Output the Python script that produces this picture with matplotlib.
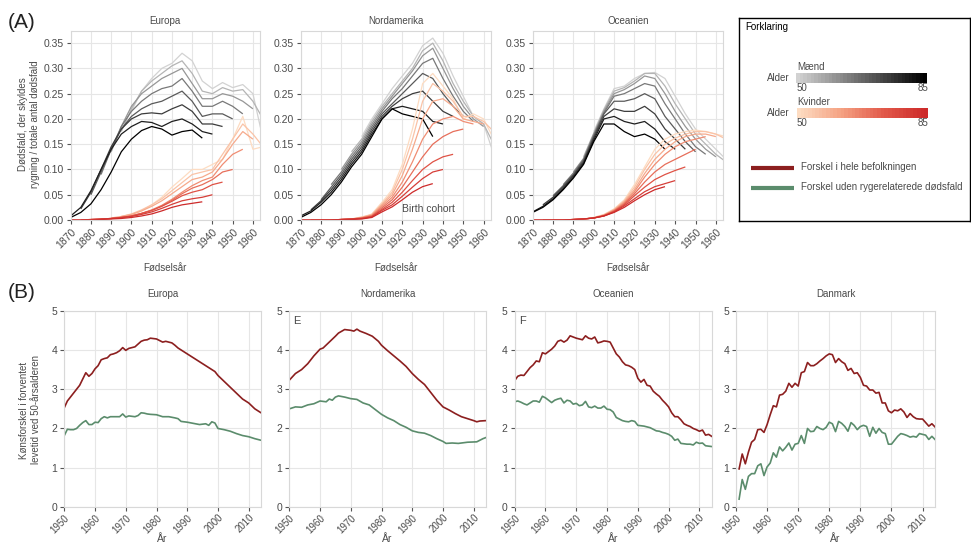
import numpy as np
import matplotlib
matplotlib.use("Agg")
import matplotlib.pyplot as plt
from matplotlib.colors import LinearSegmentedColormap

plt.rcParams["font.family"] = ["Liberation Sans", "DejaVu Sans"]

# ---- panel A: smoking-attributable share of deaths by birth cohort ----
# one row per age, values every 5 birth years starting at FIRST_COHORT
AGES = [50, 55, 60, 65, 70, 75, 80, 85]
FIRST_COHORT = [1900, 1895, 1890, 1885, 1880, 1875, 1870, 1865]
STEP = 5

EUR_MEN = [
    [0.215, 0.255, 0.28, 0.30, 0.31, 0.33, 0.315, 0.275, 0.26, 0.272, 0.262, 0.268, 0.25, 0.16, 0.10],
    [0.175, 0.22, 0.255, 0.275, 0.29, 0.305, 0.315, 0.29, 0.255, 0.25, 0.262, 0.255, 0.258, 0.235, 0.2],
    [0.135, 0.185, 0.225, 0.25, 0.265, 0.28, 0.29, 0.30, 0.27, 0.24, 0.24, 0.25, 0.245, 0.235, 0.22],
    [0.09, 0.14, 0.185, 0.215, 0.235, 0.25, 0.26, 0.265, 0.28, 0.255, 0.225, 0.225, 0.235, 0.225, 0.21],
    [0.05, 0.095, 0.14, 0.18, 0.205, 0.22, 0.23, 0.235, 0.245, 0.255, 0.235, 0.205, 0.21, 0.21, 0.2],
    [0.022, 0.055, 0.1, 0.145, 0.18, 0.2, 0.21, 0.212, 0.21, 0.22, 0.228, 0.215, 0.19, 0.19, 0.185],
    [0.008, 0.025, 0.058, 0.1, 0.14, 0.17, 0.185, 0.195, 0.193, 0.185, 0.195, 0.2, 0.19, 0.175, 0.17],
    [0.0, 0.005, 0.015, 0.032, 0.06, 0.095, 0.135, 0.16, 0.177, 0.185, 0.18, 0.168, 0.175, 0.178, 0.162],
]
EUR_WOMEN = [
    [0.01, 0.018, 0.03, 0.045, 0.065, 0.082, 0.1, 0.1, 0.11, 0.12, 0.16, 0.205, 0.14, 0.145, 0.12],
    [0.007, 0.012, 0.02, 0.03, 0.042, 0.058, 0.074, 0.09, 0.095, 0.1, 0.13, 0.16, 0.19, 0.17, 0.145],
    [0.004, 0.007, 0.011, 0.018, 0.027, 0.038, 0.052, 0.066, 0.08, 0.085, 0.095, 0.12, 0.15, 0.175, 0.16],
    [0.002, 0.003, 0.005, 0.008, 0.013, 0.02, 0.029, 0.041, 0.055, 0.068, 0.078, 0.085, 0.11, 0.13, 0.14],
    [0.001, 0.002, 0.003, 0.005, 0.008, 0.013, 0.019, 0.028, 0.039, 0.052, 0.063, 0.07, 0.08, 0.095, 0.1],
    [0.0, 0.001, 0.002, 0.003, 0.005, 0.008, 0.013, 0.019, 0.027, 0.037, 0.048, 0.055, 0.06, 0.07, 0.075],
    [0.0, 0.0, 0.001, 0.002, 0.003, 0.005, 0.007, 0.011, 0.016, 0.023, 0.031, 0.038, 0.042, 0.045, 0.05],
    [0.0, 0.0, 0.0, 0.0, 0.001, 0.002, 0.003, 0.005, 0.008, 0.012, 0.018, 0.025, 0.03, 0.033, 0.036],
]
NAM_MEN = [
    [0.165, 0.2, 0.23, 0.26, 0.285, 0.31, 0.345, 0.36, 0.33, 0.285, 0.245, 0.205, 0.19, 0.13, 0.1],
    [0.135, 0.16, 0.195, 0.225, 0.25, 0.275, 0.3, 0.335, 0.35, 0.315, 0.27, 0.235, 0.205, 0.19, 0.15],
    [0.1, 0.13, 0.155, 0.19, 0.22, 0.245, 0.27, 0.295, 0.325, 0.34, 0.3, 0.26, 0.225, 0.2, 0.185],
    [0.07, 0.095, 0.125, 0.15, 0.185, 0.215, 0.24, 0.26, 0.285, 0.31, 0.32, 0.28, 0.245, 0.215, 0.195],
    [0.04, 0.065, 0.09, 0.12, 0.145, 0.18, 0.21, 0.23, 0.25, 0.27, 0.29, 0.28, 0.25, 0.225, 0.205],
    [0.02, 0.038, 0.06, 0.085, 0.115, 0.14, 0.175, 0.205, 0.225, 0.24, 0.25, 0.255, 0.235, 0.215, 0.205],
    [0.008, 0.018, 0.035, 0.055, 0.08, 0.11, 0.135, 0.17, 0.2, 0.22, 0.225, 0.22, 0.215, 0.195, 0.19],
    [0.002, 0.005, 0.015, 0.03, 0.05, 0.075, 0.105, 0.13, 0.165, 0.2, 0.22, 0.21, 0.205, 0.2, 0.165],
]
NAM_WOMEN = [
    [0.004, 0.012, 0.035, 0.06, 0.11, 0.18, 0.27, 0.29, 0.265, 0.24, 0.2, 0.21, 0.2, 0.16, 0.14],
    [0.002, 0.006, 0.011, 0.032, 0.055, 0.1, 0.16, 0.235, 0.27, 0.255, 0.235, 0.205, 0.205, 0.195, 0.175],
    [0.001, 0.002, 0.005, 0.01, 0.03, 0.05, 0.088, 0.14, 0.2, 0.235, 0.24, 0.225, 0.2, 0.195, 0.19],
    [0.0, 0.001, 0.002, 0.004, 0.009, 0.027, 0.045, 0.075, 0.115, 0.16, 0.19, 0.2, 0.205, 0.195, 0.19],
    [0.0, 0.0, 0.001, 0.002, 0.004, 0.008, 0.024, 0.04, 0.065, 0.095, 0.125, 0.15, 0.165, 0.175, 0.18],
    [0.0, 0.0, 0.0, 0.001, 0.002, 0.003, 0.007, 0.021, 0.035, 0.055, 0.078, 0.1, 0.115, 0.125, 0.13],
    [0.0, 0.0, 0.0, 0.0, 0.001, 0.002, 0.003, 0.006, 0.019, 0.03, 0.047, 0.065, 0.082, 0.095, 0.1],
    [0.0, 0.0, 0.0, 0.0, 0.0, 0.001, 0.001, 0.002, 0.005, 0.016, 0.026, 0.04, 0.055, 0.066, 0.072],
]
OCE_MEN = [
    [0.175, 0.22, 0.26, 0.265, 0.28, 0.29, 0.292, 0.28, 0.245, 0.21, 0.18, 0.16, 0.14, 0.12, 0.11],
    [0.125, 0.172, 0.218, 0.255, 0.262, 0.275, 0.29, 0.29, 0.265, 0.23, 0.2, 0.17, 0.15, 0.13, 0.115],
    [0.095, 0.122, 0.17, 0.215, 0.25, 0.258, 0.27, 0.285, 0.28, 0.25, 0.215, 0.185, 0.16, 0.14, 0.125],
    [0.07, 0.093, 0.12, 0.168, 0.212, 0.245, 0.25, 0.26, 0.27, 0.265, 0.23, 0.2, 0.17, 0.145, 0.13],
    [0.048, 0.068, 0.09, 0.118, 0.165, 0.21, 0.235, 0.235, 0.24, 0.25, 0.24, 0.205, 0.18, 0.155, 0.135],
    [0.03, 0.045, 0.065, 0.088, 0.115, 0.162, 0.205, 0.22, 0.215, 0.215, 0.225, 0.21, 0.18, 0.16, 0.14],
    [0.016, 0.027, 0.042, 0.062, 0.085, 0.112, 0.158, 0.2, 0.205, 0.195, 0.19, 0.195, 0.18, 0.155, 0.14],
    [0.01, 0.015, 0.025, 0.04, 0.06, 0.083, 0.11, 0.155, 0.19, 0.19, 0.175, 0.165, 0.17, 0.16, 0.14],
]
OCE_WOMEN = [
    [0.005, 0.011, 0.022, 0.04, 0.07, 0.105, 0.14, 0.16, 0.17, 0.175, 0.178, 0.175, 0.17, 0.165, 0.16],
    [0.002, 0.005, 0.01, 0.021, 0.038, 0.065, 0.1, 0.13, 0.15, 0.162, 0.17, 0.175, 0.175, 0.17, 0.16],
    [0.001, 0.002, 0.004, 0.01, 0.02, 0.036, 0.06, 0.092, 0.12, 0.14, 0.155, 0.165, 0.17, 0.17, 0.165],
    [0.0, 0.001, 0.002, 0.004, 0.009, 0.019, 0.034, 0.056, 0.085, 0.11, 0.13, 0.145, 0.155, 0.16, 0.165],
    [0.0, 0.0, 0.001, 0.002, 0.004, 0.009, 0.018, 0.032, 0.052, 0.075, 0.095, 0.11, 0.12, 0.13, 0.14],
    [0.0, 0.0, 0.0, 0.001, 0.002, 0.004, 0.008, 0.017, 0.03, 0.048, 0.065, 0.08, 0.09, 0.098, 0.105],
    [0.0, 0.0, 0.0, 0.0, 0.001, 0.002, 0.004, 0.008, 0.016, 0.028, 0.042, 0.056, 0.066, 0.072, 0.078],
    [0.0, 0.0, 0.0, 0.0, 0.0, 0.001, 0.002, 0.004, 0.008, 0.015, 0.025, 0.038, 0.05, 0.06, 0.066],
]
A_TITLES = ["Europa", "Nordamerika", "Oceanien"]
A_YTICKS = [0.0, 0.05, 0.10, 0.15, 0.20, 0.25, 0.30, 0.35]
A_XTICKS = list(range(1870, 1961, 10))

# ---- panel B: sex gap in life expectancy at 50 ----
EUR_RED_YEARS = [1950, 1951, 1952, 1953, 1955, 1957, 1958, 1959] + list(range(1960, 1991)) + \
    [1992, 1994, 1995, 1997, 1999, 2000, 2002, 2004, 2006, 2008, 2010, 2012, 2014]
EUR_RED = [2.53, 2.7, 2.8, 2.9, 3.1, 3.42, 3.33, 3.4,
           3.52, 3.6, 3.75, 3.78, 3.8, 3.88, 3.9, 3.93, 3.98, 4.06,
           3.99, 4.04, 4.06, 4.08, 4.15, 4.22, 4.25, 4.26, 4.3, 4.29,
           4.28, 4.24, 4.2, 4.22, 4.2, 4.18, 4.12, 4.05, 4.0, 3.95, 3.9,
           3.8, 3.7, 3.65, 3.55, 3.45, 3.35, 3.2, 3.05, 2.9, 2.75, 2.65, 2.5, 2.4]
EUR_GREEN_YEARS = list(range(1950, 1979)) + [1980, 1982, 1984, 1986, 1987, 1988, 1990, 1992, 1994,
                                              1996, 1997, 1998, 1999, 2000, 2002, 2004, 2006, 2008,
                                              2010, 2012, 2014]
EUR_GREEN = [1.82, 1.98, 1.97, 1.97, 2.0, 2.08, 2.15, 2.2, 2.1, 2.1,
             2.16, 2.15, 2.25, 2.3, 2.27, 2.3, 2.3, 2.3, 2.3, 2.37,
             2.29, 2.32, 2.31, 2.3, 2.33, 2.4, 2.39, 2.37, 2.36,
             2.35, 2.3, 2.3, 2.27, 2.25, 2.18, 2.16, 2.13, 2.1,
             2.12, 2.08, 2.17, 2.14, 2.0, 1.97, 1.93, 1.87, 1.82, 1.79, 1.74, 1.7]
NAM_RED_YEARS = [1950, 1952, 1954, 1956, 1958, 1960, 1961, 1963, 1965, 1966, 1968, 1970, 1971,
                 1972, 1973, 1975, 1977, 1979, 1980, 1982, 1984, 1986, 1988, 1990, 1992, 1994,
                 1996, 1998, 2000, 2002, 2004, 2006, 2008, 2010, 2011, 2012, 2014]
NAM_RED = [3.23, 3.4, 3.5, 3.65, 3.85, 4.02, 4.05, 4.2, 4.35, 4.43, 4.52, 4.5, 4.48,
           4.53, 4.48, 4.42, 4.35, 4.22, 4.12, 3.98, 3.85, 3.72, 3.58, 3.4, 3.25, 3.12,
           2.92, 2.72, 2.55, 2.47, 2.38, 2.3, 2.25, 2.2, 2.17, 2.19, 2.2]
NAM_GREEN_YEARS = [1950, 1952, 1954, 1956, 1958, 1960, 1962, 1963, 1964, 1965, 1966, 1968, 1970,
                   1972, 1974, 1976, 1978, 1980, 1982, 1984, 1986, 1988, 1990, 1992, 1994, 1996,
                   1998, 2000, 2001, 2003, 2005, 2008, 2011, 2013, 2014]
NAM_GREEN = [2.5, 2.55, 2.54, 2.6, 2.63, 2.7, 2.68, 2.75, 2.72, 2.8, 2.83, 2.8, 2.76,
             2.74, 2.65, 2.6, 2.48, 2.36, 2.27, 2.2, 2.1, 2.03, 1.94, 1.9, 1.88, 1.82,
             1.74, 1.67, 1.62, 1.63, 1.62, 1.65, 1.66, 1.74, 1.77]
OCE_YEARS = list(range(1950, 2015))
OCE_RED = [3.22, 3.33, 3.36, 3.35, 3.45, 3.55, 3.62, 3.72, 3.7, 3.93,
           3.9, 3.96, 4.02, 4.1, 4.22, 4.25, 4.2, 4.25, 4.36, 4.33,
           4.3, 4.28, 4.26, 4.36, 4.3, 4.28, 4.33, 4.18, 4.2, 4.23,
           4.22, 4.2, 4.05, 3.9, 3.82, 3.7, 3.62, 3.6, 3.56, 3.5,
           3.28, 3.18, 3.25, 3.1, 3.08, 2.95, 2.88, 2.82, 2.72, 2.64,
           2.55, 2.4, 2.3, 2.3, 2.22, 2.12, 2.08, 2.05, 2.0, 1.97,
           1.93, 1.96, 1.83, 1.85, 1.8]
OCE_GREEN = [2.68, 2.7, 2.67, 2.63, 2.6, 2.65, 2.7, 2.7, 2.67, 2.82,
             2.78, 2.72, 2.66, 2.72, 2.75, 2.77, 2.65, 2.72, 2.7, 2.62,
             2.64, 2.58, 2.6, 2.69, 2.55, 2.53, 2.57, 2.52, 2.52, 2.57,
             2.49, 2.48, 2.42, 2.28, 2.24, 2.2, 2.18, 2.17, 2.2, 2.18,
             2.08, 2.07, 2.06, 2.04, 2.02, 1.98, 1.94, 1.93, 1.9, 1.88,
             1.85, 1.8, 1.7, 1.73, 1.62, 1.61, 1.6, 1.6, 1.58, 1.65,
             1.62, 1.63, 1.56, 1.55, 1.54]
DEN_YEARS = list(range(1951, 2015))
DEN_RED = [0.97, 1.35, 1.1, 1.4, 1.65, 1.72, 1.97, 1.98, 1.9, 2.1,
           2.35, 2.58, 2.55, 2.85, 2.87, 2.95, 3.15, 3.05, 3.15, 3.08,
           3.42, 3.45, 3.68, 3.6, 3.6, 3.65, 3.72, 3.78, 3.85, 3.9,
           3.88, 3.68, 3.78, 3.7, 3.65, 3.48, 3.53, 3.4, 3.42, 3.3,
           3.1, 3.08, 2.98, 2.98, 2.9, 2.92, 2.65, 2.65, 2.45, 2.4,
           2.47, 2.45, 2.5, 2.42, 2.28, 2.38, 2.3, 2.25, 2.24, 2.24,
           2.15, 2.06, 2.12, 2.04]
DEN_GREEN = [0.2, 0.7, 0.45, 0.78, 0.85, 0.85, 1.05, 1.1, 0.8, 1.02,
             1.12, 1.38, 1.27, 1.53, 1.43, 1.52, 1.63, 1.45, 1.6, 1.62,
             1.82, 1.62, 2.0, 1.92, 1.93, 2.05, 2.0, 1.97, 2.03, 2.16,
             2.12, 1.92, 2.18, 2.13, 2.05, 1.93, 2.15, 2.08, 1.97, 2.05,
             2.08, 2.05, 1.8, 2.03, 1.88, 2.0, 1.9, 1.87, 1.6, 1.6,
             1.7, 1.8, 1.87, 1.85, 1.82, 1.78, 1.8, 1.78, 1.87, 1.85,
             1.83, 1.72, 1.8, 1.72]
B_TITLES = ["Europa", "Nordamerika", "Oceanien", "Danmark"]
B_CORNER = ["", "E", "F", ""]
B_XTICKS = list(range(1950, 2011, 10))

RED = "#8c1f1f"
GREEN = "#5b8c6c"
MEN_CMAP = LinearSegmentedColormap.from_list("men", ["#d2d2d2", "#000000"])
WOMEN_CMAP = LinearSegmentedColormap.from_list("women", ["#fddcc2", "#f5a283", "#e2594a", "#cd2a2a"])
TXT = "#4a4a4a"

W, H = 971, 545


def px_rect(x0, y0, x1, y1):
    return [x0 / W, 1 - y1 / H, (x1 - x0) / W, (y1 - y0) / H]


def style(ax, size=7.5):
    for s in ax.spines.values():
        s.set_color("#d8d8d8")
        s.set_linewidth(0.8)
    ax.grid(True, color="#e6e6e6", linewidth=0.8)
    ax.set_axisbelow(True)
    ax.tick_params(colors="#555555", labelcolor=TXT, labelsize=size, length=3, width=0.8, pad=2)


fig = plt.figure(figsize=(9.71, 5.45), dpi=100)

A_BOXES = [(70.7, 31, 260, 220), (300.7, 31, 490.7, 220), (532.7, 31, 723, 220)]
A_DATA = [(EUR_MEN, EUR_WOMEN), (NAM_MEN, NAM_WOMEN), (OCE_MEN, OCE_WOMEN)]
for box, title, (men, women) in zip(A_BOXES, A_TITLES, A_DATA):
    ax = fig.add_axes(px_rect(*box))
    style(ax)
    for rows, cmap in ((men, MEN_CMAP), (women, WOMEN_CMAP)):
        for k, age in enumerate(AGES):
            xs = FIRST_COHORT[k] + STEP * np.arange(len(rows[k]))
            ax.plot(xs, rows[k], color=cmap((age - 50) / 35), lw=0.9, solid_capstyle="butt")
    ax.set_xlim(1870, 1963.5)
    ax.set_ylim(0, 0.374)
    ax.set_yticks(A_YTICKS)
    ax.set_yticklabels([f"{v:.2f}" for v in A_YTICKS])
    ax.set_xticks(A_XTICKS)
    ax.set_xticklabels([str(v) for v in A_XTICKS], rotation=45, ha="right", rotation_mode="anchor")
    ax.set_title(title, fontsize=7, color=TXT, pad=5)
    fig.text((box[0] + box[2]) / 2 / W, 1 - 268 / H, "Fødselsår", fontsize=7, color=TXT,
             ha="center", va="center")
    if title == "Nordamerika":
        ax.text(1933, 0.022, "Birth cohort", fontsize=7.5, color=TXT, ha="center", va="center")

fig.text(29 / W, 1 - 124 / H, "Dødsfald, der skyldes\nrygning / totale antal dødsfald",
         rotation=90, ha="center", va="center", fontsize=7, color=TXT, linespacing=1.3)

B_BOXES = [(64.3, 310.7, 261, 507), (289.3, 310.7, 486, 507), (514.7, 310.7, 711.7, 507), (736, 310.7, 935, 507)]
B_DATA = [
    (EUR_RED_YEARS, EUR_RED, EUR_GREEN_YEARS, EUR_GREEN),
    (NAM_RED_YEARS, NAM_RED, NAM_GREEN_YEARS, NAM_GREEN),
    (OCE_YEARS, OCE_RED, OCE_YEARS, OCE_GREEN),
    (DEN_YEARS, DEN_RED, DEN_YEARS, DEN_GREEN),
]
for box, title, corner, (yr_r, red, yr_g, green) in zip(B_BOXES, B_TITLES, B_CORNER, B_DATA):
    ax = fig.add_axes(px_rect(*box))
    style(ax, size=7.5)
    ax.tick_params(axis="x", labelsize=7, pad=1)
    ax.plot(yr_r, red, color=RED, lw=1.2)
    ax.plot(yr_g, green, color=GREEN, lw=1.2)
    ax.set_xlim(1950, 2014)
    ax.set_ylim(0, 5)
    ax.set_yticks(range(0, 6))
    ax.set_xticks(B_XTICKS)
    ax.set_xticklabels([str(v) for v in B_XTICKS], rotation=45, ha="right", rotation_mode="anchor")
    ax.set_title(title, fontsize=7, color=TXT, pad=10)
    fig.text((box[0] + box[2]) / 2 / W, 1 - 539 / H, "År", fontsize=7.5, color=TXT,
             ha="center", va="center")
    if corner:
        ax.text(0.02, 0.975, corner, transform=ax.transAxes, fontsize=8, color=TXT, ha="left", va="top")

fig.text(30 / W, 1 - 410 / H, "Kønsforskel i forventet\nlevetid ved 50-årsalderen",
         rotation=90, ha="center", va="center", fontsize=7, color=TXT, linespacing=1.3)

fig.text(8 / W, 1 - 22 / H, "(A)", fontsize=15, ha="left", va="center", color="#222222")
fig.text(8 / W, 1 - 292 / H, "(B)", fontsize=15, ha="left", va="center", color="#222222")

# ---- legend box ----
lax = fig.add_axes(px_rect(739, 18, 969.5, 221))
lax.set_xticks([])
lax.set_yticks([])
for s in lax.spines.values():
    s.set_color("black")
    s.set_linewidth(1.0)
steps = np.arange(36).reshape(1, -1)
lax.imshow(steps, cmap=MEN_CMAP, extent=(57, 188, 65, 55), aspect="auto", interpolation="nearest")
lax.imshow(steps, cmap=WOMEN_CMAP, extent=(58, 189, 100, 90), aspect="auto", interpolation="nearest")
lax.set_xlim(0, 230.5)
lax.set_ylim(203, 0)
lax.text(6, 9, "Forklaring", fontsize=7, color="black", va="center")
for y_bar, name in ((60, "Mænd"), (95, "Kvinder")):
    lax.text(51, y_bar, "Alder", fontsize=7, color=TXT, ha="right", va="center")
    lax.text(58, y_bar - 5.5, name, fontsize=7, color=TXT, ha="left", va="bottom")
    lax.text(58, y_bar + 5.5, "50", fontsize=7, color=TXT, ha="left", va="top")
    lax.text(189, y_bar + 5.5, "85", fontsize=7, color=TXT, ha="right", va="top")
lax.plot([12, 55], [150, 150], color=RED, lw=3, solid_capstyle="butt")
lax.plot([12, 55], [170, 170], color=GREEN, lw=3, solid_capstyle="butt")
lax.text(62, 149, "Forskel i hele befolkningen", fontsize=7, color=TXT, va="center")
lax.text(62, 169, "Forskel uden rygerelaterede dødsfald", fontsize=7, color=TXT, va="center")

fig.savefig("out.png", dpi=100)
